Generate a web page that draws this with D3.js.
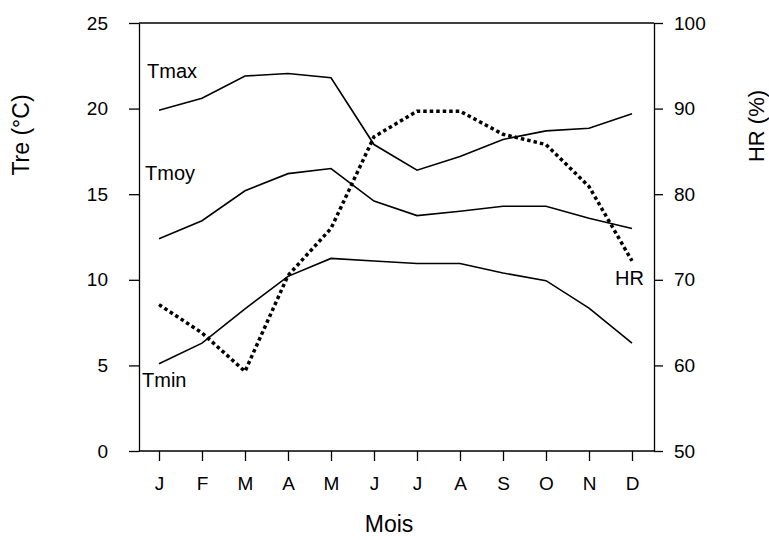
<!DOCTYPE html>
<html>
<head>
<meta charset="utf-8">
<script src="https://cdn.jsdelivr.net/npm/d3@7"></script>
<style>
  body { margin: 0; background: #fff; }
  svg { font-family: "Liberation Sans", Arial, sans-serif; }
</style>
</head>
<body>
<div class="svg-container"></div>
<script>
const months = ["J", "F", "M", "A", "M", "J", "J", "A", "S", "O", "N", "D"];
const tmax = [19.9, 20.6, 21.9, 22.05, 21.8, 17.9, 16.4, 17.2, 18.2, 18.7, 18.85, 19.7];
const tmoy = [12.4, 13.45, 15.2, 16.2, 16.5, 14.6, 13.75, 14.0, 14.3, 14.3, 13.6, 13.0];
const tmin = [5.1, 6.3, 8.3, 10.2, 11.25, 11.1, 10.95, 10.95, 10.4, 9.95, 8.35, 6.3];
const hr = [67.1, 63.8, 59.3, 70.5, 76.0, 86.7, 89.7, 89.7, 87.0, 85.8, 80.9, 72.2];
const tempTicks = [0, 5, 10, 15, 20, 25];
const hrTicks = [50, 60, 70, 80, 90, 100];

const W = 769, H = 540;
const plot = { left: 139, right: 654, top: 23, bottom: 451 };

const svg = d3.select(".svg-container")
  .append("svg")
  .attr("width", W)
  .attr("height", H);

// scales
const x = d3.scalePoint()
  .domain(d3.range(months.length))
  .range([159, 632]);
const yL = d3.scaleLinear().domain([0, 25]).range([plot.bottom, plot.top]);
const yR = d3.scaleLinear().domain([50, 100]).range([plot.bottom, plot.top]);

// frame lines top / bottom
svg.append("line")
  .attr("x1", plot.left).attr("x2", plot.right)
  .attr("y1", plot.top).attr("y2", plot.top)
  .attr("stroke", "#000").attr("stroke-width", 1.3);
svg.append("line")
  .attr("x1", plot.left).attr("x2", plot.right)
  .attr("y1", plot.bottom).attr("y2", plot.bottom)
  .attr("stroke", "#000").attr("stroke-width", 1.3);

// left axis
const gL = svg.append("g")
  .attr("transform", "translate(" + plot.left + ",0)")
  .call(d3.axisLeft(yL).tickValues(tempTicks).tickSize(10).tickSizeOuter(0).tickPadding(21));

// right axis
const gR = svg.append("g")
  .attr("transform", "translate(" + plot.right + ",0)")
  .call(d3.axisRight(yR).tickValues(hrTicks).tickSize(9).tickSizeOuter(0).tickPadding(11));

// bottom axis
const gB = svg.append("g")
  .attr("transform", "translate(0," + plot.bottom + ")")
  .call(d3.axisBottom(x).tickSize(10).tickFormat(i => months[i]));
gB.select(".domain").remove();
gB.selectAll("text").attr("dy", null).attr("y", 39);

svg.selectAll(".domain, .tick line").attr("stroke", "#000").attr("stroke-width", 1.3);
svg.selectAll(".tick text")
  .attr("fill", "#000")
  .style("font-size", "19px")
  .style("font-family", "'Liberation Sans', Arial, sans-serif");

// lines
const lineL = d3.line().x((d, i) => x(i)).y(d => yL(d));
const lineR = d3.line().x((d, i) => x(i)).y(d => yR(d));

[tmax, tmoy, tmin].forEach(function (s) {
  svg.append("path")
    .datum(s)
    .attr("d", lineL)
    .attr("fill", "none")
    .attr("stroke", "#000")
    .attr("stroke-width", 1.6);
});

svg.append("path")
  .datum(hr)
  .attr("d", lineR)
  .attr("fill", "none")
  .attr("stroke", "#000")
  .attr("stroke-width", 3.5)
  .attr("stroke-dasharray", "3.5,3");

// series labels
const labels = [
  { t: "Tmax", x: 147, y: 78 },
  { t: "Tmoy", x: 145, y: 180 },
  { t: "Tmin", x: 142, y: 387 },
  { t: "HR", x: 615, y: 285 }
];
svg.selectAll(".lbl")
  .data(labels)
  .enter()
  .append("text")
  .attr("class", "lbl")
  .attr("x", d => d.x)
  .attr("y", d => d.y)
  .style("font-size", "20px")
  .text(d => d.t);

// axis titles
svg.append("text")
  .attr("transform", "translate(29,135) rotate(-90)")
  .attr("text-anchor", "middle")
  .style("font-size", "23px")
  .text("Tre (°C)");
svg.append("text")
  .attr("transform", "translate(764,126) rotate(-90)")
  .attr("text-anchor", "middle")
  .style("font-size", "22px")
  .text("HR (%)");
svg.append("text")
  .attr("x", 389)
  .attr("y", 532)
  .attr("text-anchor", "middle")
  .style("font-size", "23px")
  .text("Mois");
</script>
</body>
</html>
